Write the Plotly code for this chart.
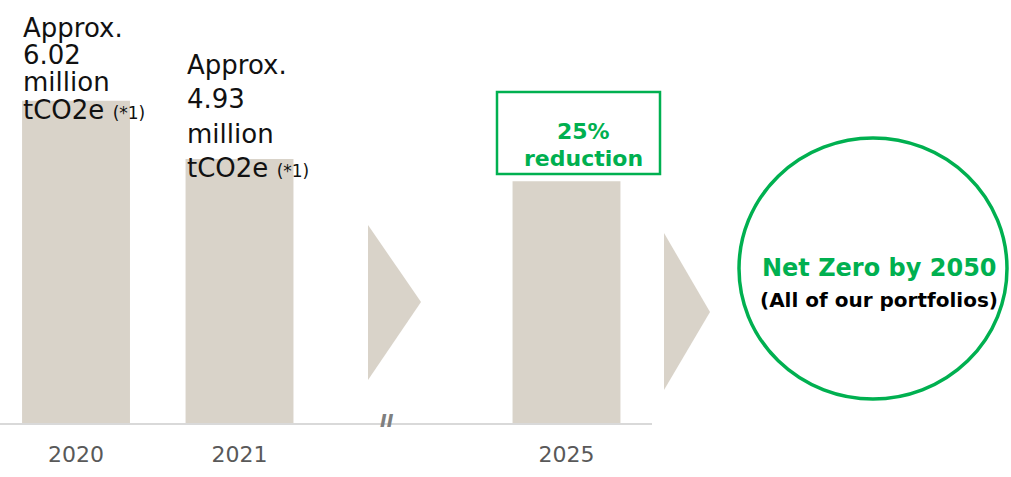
import plotly.graph_objects as go

# Scope 1-3 emissions, million tCO2e
years = ["2020", "2021", "2025"]
emissions = [6.02, 4.93, 4.515]
value_labels = ["6.02", "4.93"]
slots = ["2020", "2021", "gap", "2025"]
reduction_pct = 25
goal_title = "Net Zero by 2050"
goal_sub = "(All of our portfolios)"

W, H = 1011, 477
BAR = "#D9D3C9"
GREEN = "#00B050"
FONT = "DejaVu Sans"


def px(x):
    return x / W


def py(y):
    return 1 - y / H


fig = go.Figure(
    go.Bar(
        x=years,
        y=emissions,
        marker=dict(color=BAR, line=dict(width=0)),
        width=0.66,
        hoverinfo="skip",
    )
)

fig.update_layout(
    width=W,
    height=H,
    margin=dict(l=0, r=0, t=0, b=0),
    paper_bgcolor="white",
    plot_bgcolor="white",
    showlegend=False,
    font=dict(family=FONT),
)

fig.update_xaxes(
    type="category",
    categoryorder="array",
    categoryarray=slots,
    tickvals=years,
    ticktext=years,
    range=[-0.465, 3.523],
    domain=[0, 652 / W],
    showline=True,
    linecolor="#D9D9D9",
    linewidth=2,
    showgrid=False,
    ticks="",
    ticklabelstandoff=11,
    tickfont=dict(size=22, color="#595959", family=FONT),
    automargin=False,
    zeroline=False,
)
fig.update_yaxes(
    range=[0, 7.9],
    domain=[54 / H, 1],
    visible=False,
    showgrid=False,
    automargin=False,
)

annotations = []

# value callouts stacked above the 2020 and 2021 bars
line_gap = {"2020": 27.3, "2021": 34.3}
for yr, val, lab in zip(years[:2], emissions[:2], value_labels):
    lines = [
        "Approx.",
        lab,
        "million",
        "tCO2e <span style='font-size:17px'>(*1)</span>",
    ]
    n = len(lines)
    for i, t in enumerate(lines):
        annotations.append(
            dict(
                x=slots.index(yr),
                y=val,
                xref="x",
                yref="y",
                text=t,
                showarrow=False,
                xanchor="left",
                yanchor="middle",
                xshift=-55,
                yshift=-9 + (n - 1 - i) * line_gap[yr],
                font=dict(size=26, color="#111111", family=FONT),
                align="left",
            )
        )

# 2025 target box text
annotations.append(
    dict(x=px(583), y=py(131), xref="paper", yref="paper",
         text=f"<b>{reduction_pct}%</b>", showarrow=False,
         xanchor="center", yanchor="middle",
         font=dict(size=22, color=GREEN, family=FONT))
)
annotations.append(
    dict(x=px(583), y=py(158), xref="paper", yref="paper",
         text="<b>reduction</b>", showarrow=False,
         xanchor="center", yanchor="middle",
         font=dict(size=22, color=GREEN, family=FONT))
)

# axis break marker
annotations.append(
    dict(x=px(387), y=py(420), xref="paper", yref="paper",
         text="<b><i>II</i></b>", showarrow=False,
         xanchor="center", yanchor="middle",
         font=dict(size=18, color="#7F7F7F", family=FONT))
)

# long-term goal inside the circle
annotations.append(
    dict(x=px(879), y=py(268), xref="paper", yref="paper",
         text=f"<b>{goal_title}</b>", showarrow=False,
         xanchor="center", yanchor="middle",
         font=dict(size=24, color=GREEN, family=FONT))
)
annotations.append(
    dict(x=px(879), y=py(300), xref="paper", yref="paper",
         text=f"<b>{goal_sub}</b>", showarrow=False,
         xanchor="center", yanchor="middle",
         font=dict(size=20, color="#000000", family=FONT))
)

fig.update_layout(annotations=annotations)


def tri(x0, ytop, xtip, ytip, ybot):
    return (f"M {px(x0)},{py(ytop)} L {px(xtip)},{py(ytip)} "
            f"L {px(x0)},{py(ybot)} Z")


shapes = [
    # target box
    dict(type="rect", xref="paper", yref="paper",
         x0=px(497), x1=px(660), y0=py(174), y1=py(92),
         line=dict(color=GREEN, width=2.5), fillcolor="rgba(0,0,0,0)"),
    # chevrons
    dict(type="path", xref="paper", yref="paper",
         path=tri(368, 225, 421, 302, 380),
         fillcolor=BAR, line=dict(width=0)),
    dict(type="path", xref="paper", yref="paper",
         path=tri(664, 233, 710, 312, 390),
         fillcolor=BAR, line=dict(width=0)),
    # goal circle
    dict(type="circle", xref="paper", yref="paper",
         x0=px(739), x1=px(1007), y0=py(399), y1=py(138),
         line=dict(color=GREEN, width=3.5), fillcolor="rgba(0,0,0,0)"),
]
fig.update_layout(shapes=shapes)

fig.write_html("out.html")
